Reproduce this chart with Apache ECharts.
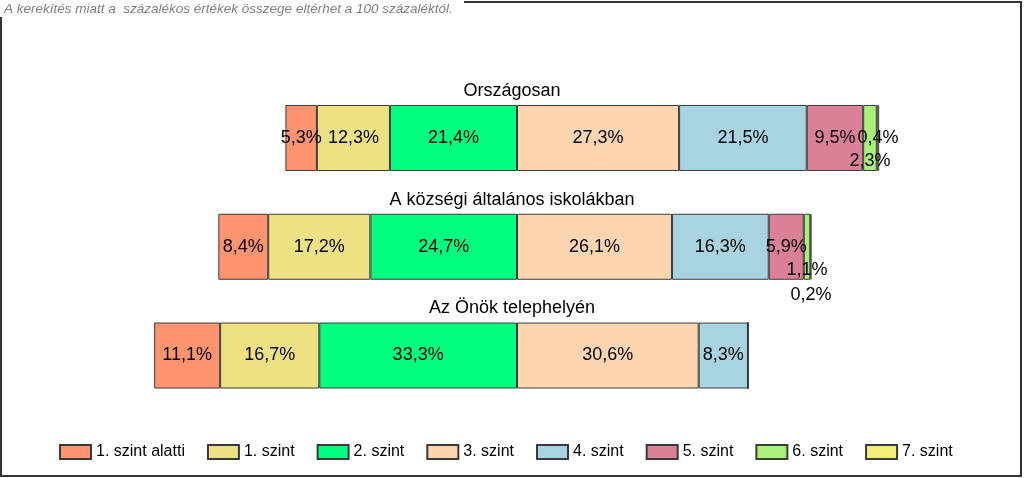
<!DOCTYPE html>
<html>
<head>
<meta charset="utf-8">
<script src="https://cdn.jsdelivr.net/npm/echarts@6/dist/echarts.min.js"></script>
<style>html,body{margin:0;padding:0;background:#fff}#c{width:1024px;height:478px}</style>
</head>
<body>
<div id="c"></div>
<script>
// ---- data ----
const categories = ['Országosan', 'A községi általános iskolákban', 'Az Önök telephelyén'];
const levels = ['1. szint alatti', '1. szint', '2. szint', '3. szint', '4. szint', '5. szint', '6. szint', '7. szint'];
const lvlBelow1 = [5.3, 8.4, 11.1];
const lvl1 = [12.3, 17.2, 16.7];
const lvl2 = [21.4, 24.7, 33.3];
const lvl3 = [27.3, 26.1, 30.6];
const lvl4 = [21.5, 16.3, 8.3];
const lvl5 = [9.5, 5.9, 0];
const lvl6 = [2.3, 1.1, 0];
const lvl7 = [0.4, 0.2, 0];
const note = 'A kerekítés miatt a  százalékos értékek összege eltérhet a 100 százaléktól.';

// ---- styling ----
const colors = ['#FF9470', '#EEE183', '#00FF7F', '#FDD5B1', '#A7D3E3', '#DB8197', '#A8F07A', '#F2EE78'];
const values = [lvlBelow1, lvl1, lvl2, lvl3, lvl4, lvl5, lvl6, lvl7];
const negative = [true, true, true, false, false, false, false, false];
// label nudges for very thin segments: [levelIndex][categoryIndex] -> [dx, dy]
const nudges = {6: {0: [0, 23], 1: [0, 23]}, 7: {1: [0, 48]}};

const fmt = v => Math.abs(v).toFixed(1).replace('.', ',') + '%';

// stacking order: from the centre outwards
const order = [2, 1, 0, 3, 4, 5, 6, 7];
const series = order.map(i => ({
  name: levels[i],
  type: 'bar',
  stack: 'total',
  barWidth: 66,
  itemStyle: {color: colors[i], borderColor: '#3a3a3a', borderWidth: 1},
  label: {
    show: true, position: 'inside', color: '#000',
    fontFamily: 'Liberation Sans', fontSize: 18,
    formatter: p => fmt(p.value)
  },
  data: values[i].map((v, c) => {
    const item = {value: negative[i] ? -v : v};
    if (v === 0) item.label = {show: false};
    else if (nudges[i] && nudges[i][c]) item.label = {offset: nudges[i][c]};
    return item;
  })
}));

const chart = echarts.init(document.getElementById('c'), null, {renderer: 'canvas'});
chart.setOption({
  animation: false,
  backgroundColor: '#fff',
  grid: {left: 42, width: 950, top: 83.6, height: 326.3},
  xAxis: {type: 'value', min: -80, max: 80, show: false},
  yAxis: {type: 'category', data: categories, inverse: true, show: false},
  legend: {
    data: levels, top: 439, left: 54, itemWidth: 31, itemHeight: 14, itemGap: 22,
    icon: 'rect',
    textStyle: {fontFamily: 'Liberation Sans', fontSize: 16, color: '#000'}
  },
  series: series
});

const titles = categories.map(c => ({
  type: 'text',
  x: 512,
  y: chart.convertToPixel({yAxisIndex: 0}, c) - 47,
  style: {text: c, fontFamily: 'Liberation Sans', fontSize: 18, fill: '#000', align: 'center', verticalAlign: 'middle'}
}));

chart.setOption({
  graphic: [
    {type: 'rect', shape: {x: 1, y: 2, width: 1020, height: 474}, style: {fill: 'none', stroke: '#333', lineWidth: 2}, z: 100},
    {type: 'rect', shape: {x: 0, y: 0, width: 464, height: 17}, style: {fill: '#fff'}, z: 101},
    {type: 'text', x: 4, y: 9, style: {text: note, fontFamily: 'Liberation Sans', fontStyle: 'italic', fontSize: 13.5, fill: '#7f7f7f', verticalAlign: 'middle'}, z: 102}
  ].concat(titles)
});
</script>
</body>
</html>
